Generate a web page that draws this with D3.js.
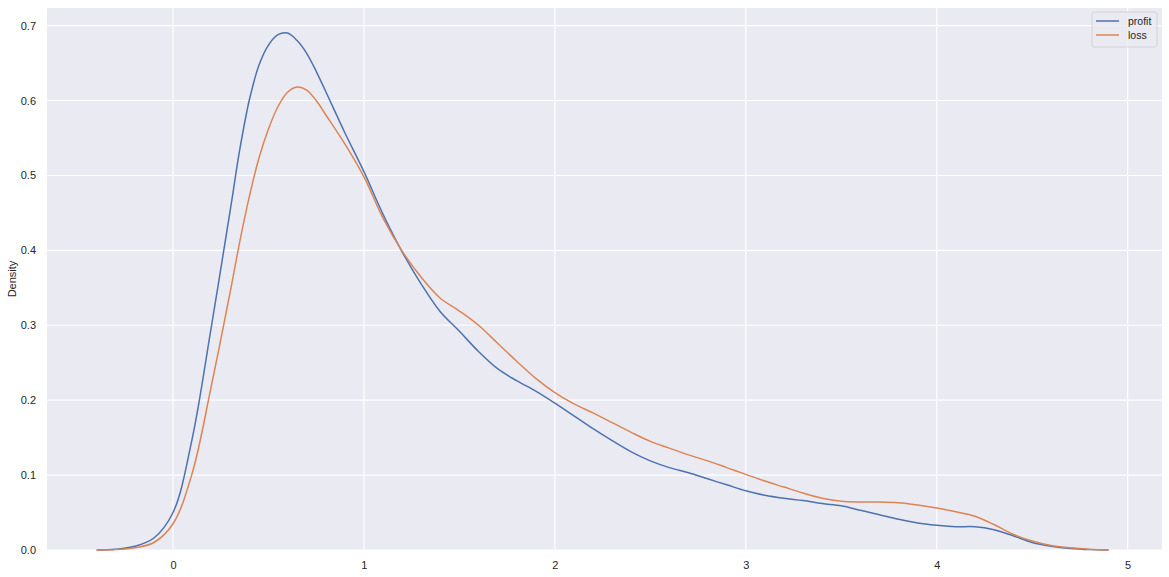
<!DOCTYPE html>
<html>
<head>
<meta charset="utf-8">
<script src="https://cdn.jsdelivr.net/npm/d3@7"></script>
<style>
  body { margin: 0; background: #fff; }
  svg { display: block; font-family: "Liberation Sans", Arial, sans-serif; }
</style>
</head>
<body>
<div id="chart"></div>
<script>
// x positions the densities were read at (finer around the peaks)
var xValues = [-0.4, -0.3, -0.2, -0.1, 0.0, 0.1, 0.2, 0.3, 0.35, 0.4, 0.45, 0.5, 0.55, 0.6, 0.65, 0.7, 0.75, 0.8, 0.9,
               1.0, 1.1, 1.2, 1.3, 1.4, 1.5, 1.6, 1.7, 1.8, 1.9, 2.0, 2.1, 2.2, 2.3, 2.4,
               2.5, 2.6, 2.7, 2.8, 2.9, 3.0, 3.1, 3.2, 3.3, 3.4, 3.5, 3.6, 3.7, 3.8, 3.9,
               4.0, 4.1, 4.2, 4.3, 4.4, 4.5, 4.6, 4.7, 4.8, 4.9];

var profit = [0.000, 0.001, 0.005, 0.016, 0.050, 0.148, 0.297, 0.454, 0.535, 0.601, 0.647, 0.674, 0.688, 0.690, 0.680, 0.663, 0.639, 0.612, 0.557,
              0.505, 0.448, 0.398, 0.355, 0.318, 0.292, 0.265, 0.242, 0.226, 0.212, 0.196, 0.179, 0.162, 0.146, 0.131,
              0.119, 0.110, 0.103, 0.095, 0.087, 0.079, 0.073, 0.069, 0.066, 0.062, 0.059, 0.053, 0.047, 0.041, 0.036,
              0.033, 0.031, 0.031, 0.027, 0.019, 0.010, 0.005, 0.002, 0.0005, 0.000];

var loss = [0.000, 0.0005, 0.003, 0.010, 0.035, 0.102, 0.218, 0.345, 0.412, 0.472, 0.523, 0.562, 0.592, 0.611, 0.618, 0.614, 0.600, 0.581, 0.542,
            0.498, 0.443, 0.399, 0.364, 0.336, 0.319, 0.300, 0.276, 0.252, 0.229, 0.210, 0.195, 0.183, 0.170, 0.157,
            0.145, 0.136, 0.127, 0.119, 0.110, 0.101, 0.092, 0.084, 0.076, 0.069, 0.065, 0.064, 0.064, 0.063, 0.060,
            0.056, 0.051, 0.045, 0.034, 0.021, 0.012, 0.006, 0.003, 0.001, 0.000];

var seriesNames = ['profit', 'loss'];
var xTicks = [0, 1, 2, 3, 4, 5];
var yTicks = [0.0, 0.1, 0.2, 0.3, 0.4, 0.5, 0.6, 0.7];

var chartWidth = 1169;
var chartHeight = 577;
var margin = {top: 8, right: 7, bottom: 27, left: 47};
var colors = d3.scaleOrdinal().domain(seriesNames).range(['#4C72B0', '#DD8452']);

var svg = d3.select('#chart').append('svg')
    .attr('width', chartWidth)
    .attr('height', chartHeight);

var plotWidth = chartWidth - margin.left - margin.right;
var plotHeight = chartHeight - margin.top - margin.bottom;

var x = d3.scaleLinear().domain([-0.66, 5.18]).range([0, plotWidth]);
var y = d3.scaleLinear().domain([0, 0.7235]).range([plotHeight, 0]);

var plot = svg.append('g')
    .attr('transform', 'translate(' + margin.left + ',' + margin.top + ')');

plot.append('rect')
    .attr('width', plotWidth)
    .attr('height', plotHeight)
    .attr('fill', '#EAEAF2');

// grid lines
plot.selectAll('.xgrid')
    .data(xTicks)
    .enter()
    .append('line')
    .attr('x1', function (d) { return x(d); })
    .attr('x2', function (d) { return x(d); })
    .attr('y1', 0)
    .attr('y2', plotHeight)
    .attr('stroke', '#fff')
    .attr('stroke-width', 1.1);

plot.selectAll('.ygrid')
    .data(yTicks)
    .enter()
    .append('line')
    .attr('x1', 0)
    .attr('x2', plotWidth)
    .attr('y1', function (d) { return y(d); })
    .attr('y2', function (d) { return y(d); })
    .attr('stroke', '#fff')
    .attr('stroke-width', 1.1);

// axes (no tick marks, darkgrid style)
var xAxis = plot.append('g')
    .attr('transform', 'translate(0,' + plotHeight + ')')
    .call(d3.axisBottom(x).tickValues(xTicks).tickSize(0).tickPadding(11).tickFormat(d3.format('d')));
var yAxis = plot.append('g')
    .call(d3.axisLeft(y).tickValues(yTicks).tickSize(0).tickPadding(11).tickFormat(d3.format('.1f')));

[xAxis, yAxis].forEach(function (ax) {
    ax.select('.domain').remove();
    ax.selectAll('text')
        .attr('font-size', 11)
        .attr('font-family', '"Liberation Sans", Arial, sans-serif')
        .attr('fill', '#262626');
});

svg.append('text')
    .attr('transform', 'translate(16,' + (margin.top + plotHeight / 2) + ') rotate(-90)')
    .attr('text-anchor', 'middle')
    .attr('font-size', 11)
    .attr('fill', '#262626')
    .text('Density');

// density lines
var line = d3.line()
    .x(function (d) { return x(d[0]); })
    .y(function (d) { return y(Math.max(0, d[1])); })
    .curve(d3.curveCatmullRom.alpha(0.5));

var seriesData = [
    {name: 'profit', values: d3.zip(xValues, profit)},
    {name: 'loss', values: d3.zip(xValues, loss)}
];

plot.selectAll('.kde')
    .data(seriesData)
    .enter()
    .append('path')
    .attr('class', 'kde')
    .attr('d', function (d) { return line(d.values); })
    .attr('fill', 'none')
    .attr('stroke', function (d) { return colors(d.name); })
    .attr('stroke-width', 1.5);

// legend
var legendGrouping = svg.append('g')
    .attr('transform', 'translate(1092,12)');

legendGrouping.append('rect')
    .attr('width', 65)
    .attr('height', 35)
    .attr('rx', 2.5)
    .attr('fill', '#EAEAF2')
    .attr('fill-opacity', 0.8)
    .attr('stroke', '#cccccc')
    .attr('stroke-width', 0.8);

var legend = legendGrouping.selectAll('.legend-item')
    .data(seriesNames)
    .enter()
    .append('g')
    .attr('transform', function (d, i) { return 'translate(0,' + (9 + i * 14) + ')'; });

legend.append('line')
    .attr('x1', 4)
    .attr('x2', 27)
    .attr('stroke', function (d) { return colors(d); })
    .attr('stroke-width', 1.5);

legend.append('text')
    .attr('x', 36)
    .attr('y', 4)
    .attr('font-size', 10.5)
    .attr('fill', '#262626')
    .text(function (d) { return d; });
</script>
</body>
</html>
